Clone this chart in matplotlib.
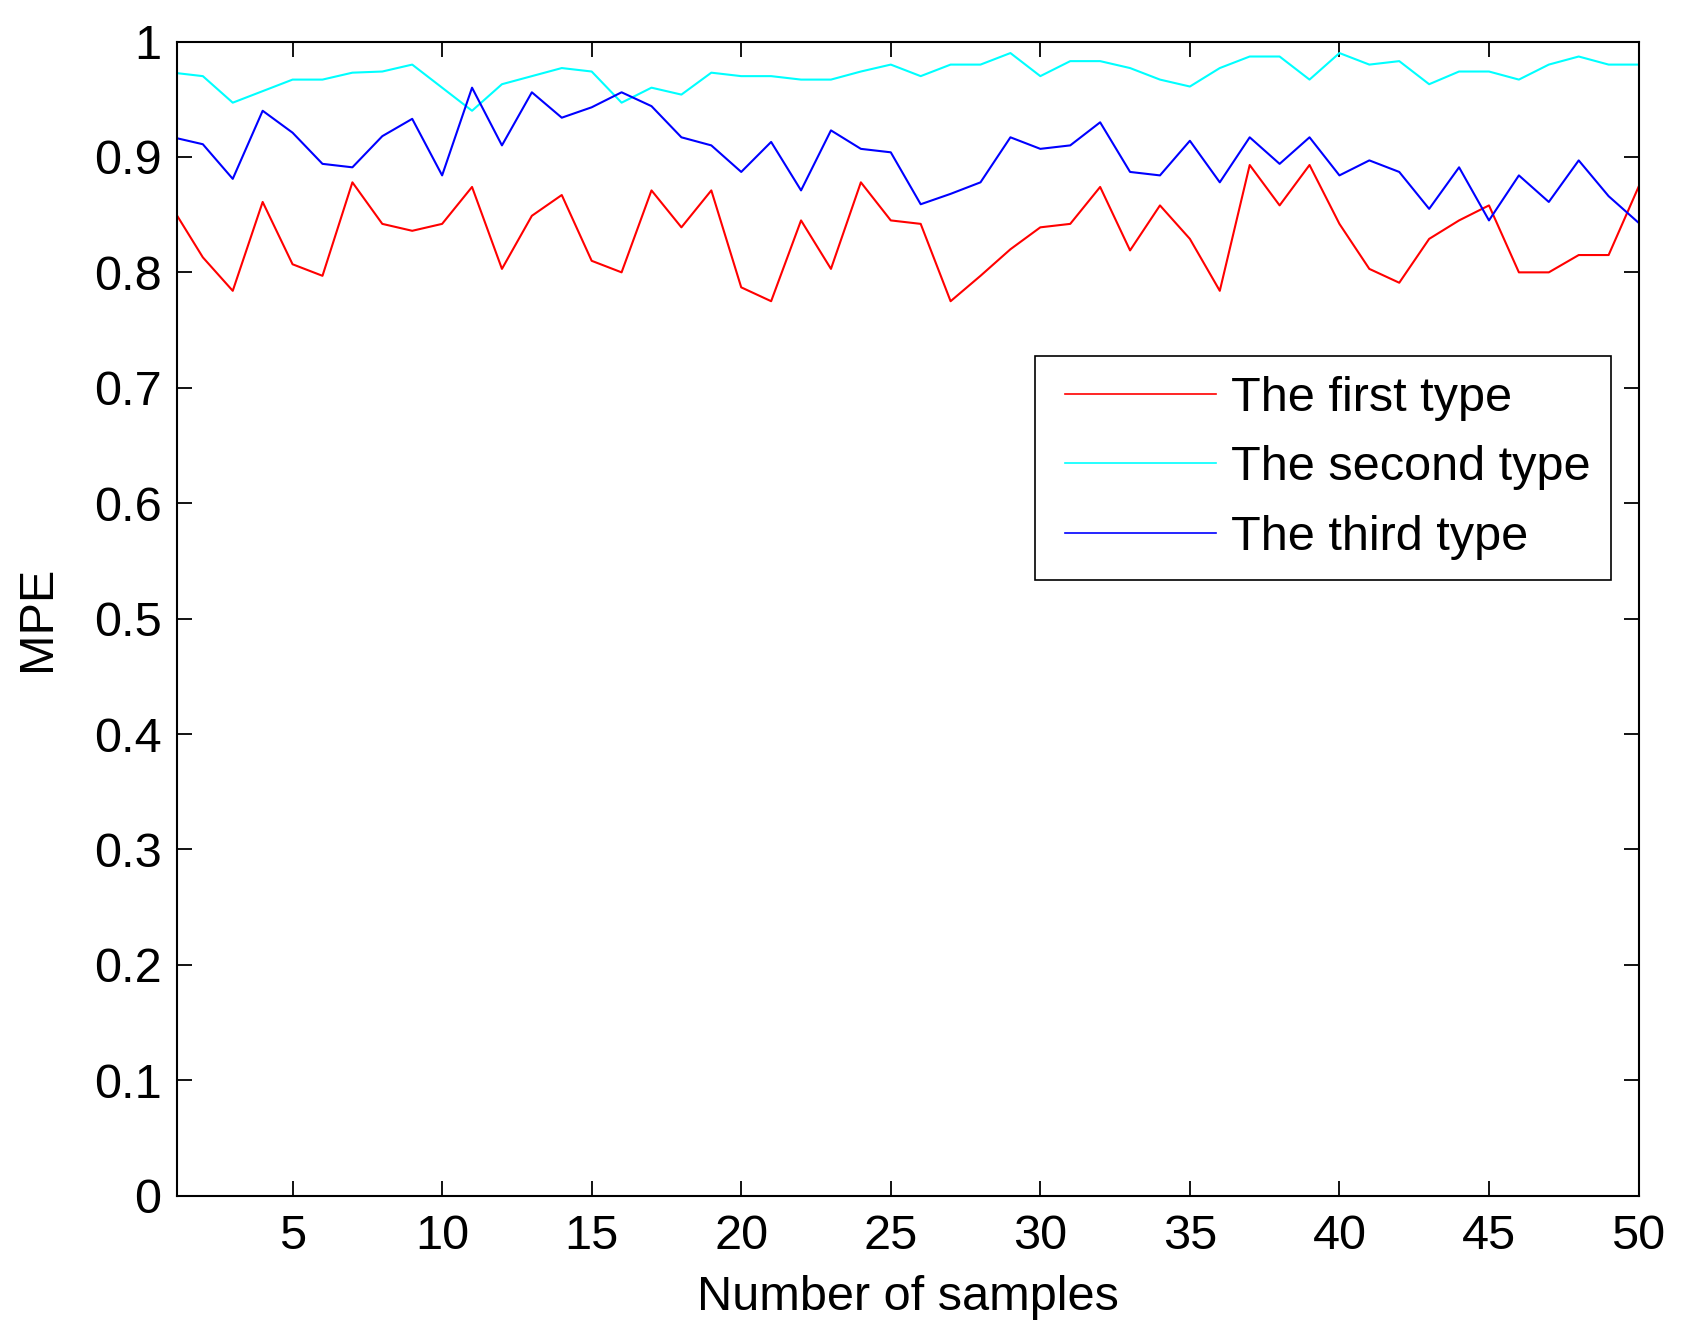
import numpy as np
from matplotlib import pyplot as plt

plt.rcParams['font.family'] = ['Liberation Sans', 'DejaVu Sans']

samples = np.arange(1, 51)

first_type = [0.855, 0.813, 0.784, 0.861, 0.807, 0.797, 0.878, 0.842, 0.836, 0.842,
              0.874, 0.803, 0.849, 0.867, 0.810, 0.800, 0.871, 0.839, 0.871, 0.787,
              0.775, 0.845, 0.803, 0.878, 0.845, 0.842, 0.775, 0.797, 0.820, 0.839,
              0.842, 0.874, 0.819, 0.858, 0.829, 0.784, 0.893, 0.858, 0.893, 0.842,
              0.803, 0.791, 0.829, 0.845, 0.858, 0.800, 0.800, 0.815, 0.815, 0.874]

second_type = [0.973, 0.970, 0.947, 0.957, 0.967, 0.967, 0.973, 0.974, 0.980, 0.960,
               0.940, 0.963, 0.970, 0.977, 0.974, 0.947, 0.960, 0.954, 0.973, 0.970,
               0.970, 0.967, 0.967, 0.974, 0.980, 0.970, 0.980, 0.980, 0.990, 0.970,
               0.983, 0.983, 0.977, 0.967, 0.961, 0.977, 0.987, 0.987, 0.967, 0.990,
               0.980, 0.983, 0.963, 0.974, 0.974, 0.967, 0.980, 0.987, 0.980, 0.980]

third_type = [0.917, 0.911, 0.881, 0.940, 0.921, 0.894, 0.891, 0.918, 0.933, 0.884,
              0.960, 0.910, 0.956, 0.934, 0.943, 0.956, 0.944, 0.917, 0.910, 0.887,
              0.913, 0.871, 0.923, 0.907, 0.904, 0.859, 0.868, 0.878, 0.917, 0.907,
              0.910, 0.930, 0.887, 0.884, 0.914, 0.878, 0.917, 0.894, 0.917, 0.884,
              0.897, 0.887, 0.855, 0.891, 0.845, 0.884, 0.861, 0.897, 0.866, 0.843]

labels = ['The first type', 'The second type', 'The third type']
colors = ['#ff0000', '#00ffff', '#0000ff']

xticks = [5, 10, 15, 20, 25, 30, 35, 40, 45, 50]
yticks = [0, 0.1, 0.2, 0.3, 0.4, 0.5, 0.6, 0.7, 0.8, 0.9, 1]
ytick_labels = ['0', '0.1', '0.2', '0.3', '0.4', '0.5', '0.6', '0.7', '0.8', '0.9', '1']

fs = 35

fig = plt.figure(figsize=(16.84, 13.39), dpi=100)
ax = fig.add_axes([0.105, 0.107, 0.868, 0.862])

for data, lab, col in zip([first_type, second_type, third_type], labels, colors):
    ax.plot(samples, data, color=col, linewidth=1.5, label=lab)

ax.set_xlim(1.13, 50)
ax.set_ylim(0, 1)
ax.set_xticks(xticks)
ax.set_yticks(yticks)
ax.set_yticklabels(ytick_labels)
ax.tick_params(direction='in', length=11, width=1.3, labelsize=fs,
               top=True, right=True)
ax.tick_params(axis='x', pad=13)
ax.tick_params(axis='y', pad=11)
for sp in ax.spines.values():
    sp.set_linewidth(1.5)

ax.set_xlabel('Number of samples', fontsize=fs, labelpad=12)
ax.set_ylabel('MPE', fontsize=fs, labelpad=24)

hlen = 3.31
leg = ax.legend(loc='upper left', bbox_to_anchor=(0.6144, 0.7344),
                bbox_transform=fig.transFigure, fontsize=fs, frameon=True,
                fancybox=False, edgecolor='black', framealpha=1,
                handlelength=hlen, handletextpad=0.31, labelspacing=0.5,
                borderpad=0.42, borderaxespad=0)
leg.get_frame().set_linewidth(1.2)
# MATLAB leaves a gap before the legend line, so start it a bit in
for line in leg.get_lines():
    n = len(line.get_ydata())
    line.set_xdata(np.linspace(0.2 * fs, hlen * fs, n))
    line.set_linewidth(1.2)

fig.savefig('out.png', dpi=100)
